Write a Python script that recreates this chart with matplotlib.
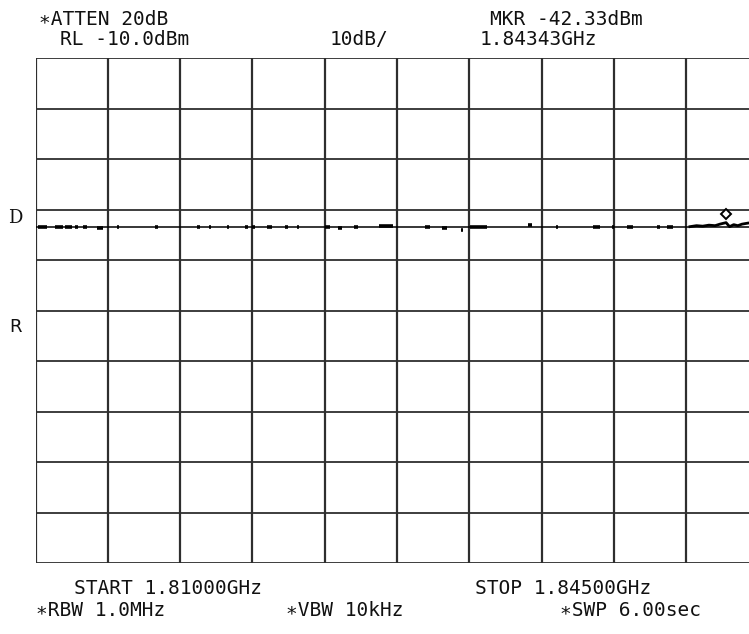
import numpy as np
import matplotlib
matplotlib.use("Agg")
import matplotlib.pyplot as plt
from matplotlib.transforms import ScaledTranslation

# ---- instrument settings / data ----
start_ghz = 1.81000
stop_ghz = 1.84500
ref_level = -10.0
db_per_div = 10.0
n_div = 10

display_line = -43.5          # noise floor / display line level (dBm)
marker_freq = 1.84343
marker_level = -42.33

# short trace blips along the noise floor (GHz start, GHz stop, dBm)
seg_start = [1.81012, 1.81094, 1.81143, 1.81191, 1.81230, 1.81298, 1.81394,
             1.81579, 1.81782, 1.81841, 1.81928, 1.82014, 1.82048, 1.82121,
             1.82208, 1.82267, 1.82402, 1.82464, 1.82542, 1.82663, 1.82886,
             1.82968, 1.83061, 1.83104, 1.83384, 1.83520, 1.83698, 1.83791,
             1.83863, 1.84008, 1.84057]
seg_stop = [1.81056, 1.81133, 1.81177, 1.81206, 1.81249, 1.81327, 1.81404,
            1.81593, 1.81796, 1.81850, 1.81937, 1.82029, 1.82063, 1.82145,
            1.82223, 1.82276, 1.82426, 1.82484, 1.82561, 1.82731, 1.82910,
            1.82992, 1.83070, 1.83186, 1.83404, 1.83529, 1.83732, 1.83800,
            1.83892, 1.84023, 1.84086]
seg_level = [-43.5, -43.5, -43.5, -43.5, -43.5, -43.7, -43.5,
             -43.5, -43.5, -43.5, -43.5, -43.5, -43.5, -43.5,
             -43.5, -43.5, -43.5, -43.6, -43.5, -43.2, -43.5,
             -43.6, -44.0, -43.4, -43.1, -43.5, -43.5, -43.5,
             -43.5, -43.5, -43.5]

# rising tail near the marker
tail_freq = [1.84168, 1.84200, 1.84230, 1.84260, 1.84290, 1.84313, 1.84343,
             1.84360, 1.84380, 1.84400, 1.84420, 1.84448]
tail_level = [-43.4, -43.2, -43.3, -43.1, -43.2, -42.9, -42.6,
              -43.4, -43.0, -43.2, -42.9, -42.7]

hdr_left1 = "∗ATTEN 20dB"
hdr_right1 = "MKR -42.33dBm"
hdr_left2 = "RL -10.0dBm"
hdr_mid2 = "10dB/"
hdr_right2 = "1.84343GHz"
ftr_start = "START 1.81000GHz"
ftr_stop = "STOP 1.84500GHz"
ftr_rbw = "∗RBW 1.0MHz"
ftr_vbw = "∗VBW 10kHz"
ftr_swp = "∗SWP 6.00sec"

# ---- figure ----
W, H = 749, 634
fig = plt.figure(figsize=(W / 100, H / 100), dpi=100)
fig.patch.set_facecolor("white")
ax = fig.add_axes([35.5 / W, 71 / H, 723 / W, 505 / H])
ax.set_xlim(start_ghz, stop_ghz)
bottom_level = ref_level - n_div * db_per_div
ax.set_ylim(bottom_level, ref_level)
ax.set_xticks([])
ax.set_yticks([])
for s in ax.spines.values():
    s.set_visible(False)

gcol = "#2e2e2e"
step_f = (stop_ghz - start_ghz) / n_div
for i in range(n_div + 1):
    ax.axvline(start_ghz + i * step_f, color=gcol, lw=1.6, zorder=1)
    ax.axhline(ref_level - i * db_per_div, color=gcol, lw=1.3, zorder=1)

# continuous display line / noise floor
ax.axhline(display_line, color="black", lw=1.1, zorder=2)

# trace blips
fx, fy = [], []
for a, b, l in zip(seg_start, seg_stop, seg_level):
    fx += [a, b, np.nan]
    fy += [l, l, np.nan]
ax.plot(fx, fy, color="black", lw=2.6, solid_capstyle="butt", zorder=3)
ax.plot(tail_freq, tail_level, color="black", lw=2.0, zorder=3)

# marker diamond (drawn just above the trace point)
off = ScaledTranslation(0, 7 / 100, fig.dpi_scale_trans)
ax.plot([marker_freq], [marker_level], marker="D", ms=5, mfc="white",
        mec="black", mew=1.4, transform=ax.transData + off, zorder=4)

# ---- texts ----
mono = dict(family="DejaVu Sans Mono", fontsize=14, color="#111111",
            va="center", ha="center")

def put(txt, cx, cy, **kw):
    d = dict(mono)
    d.update(kw)
    fig.text(cx / W, 1 - cy / H, txt, **d)

put(hdr_left1, 103.5, 19.5)
put(hdr_right1, 566, 19.5)
put(hdr_left2, 125, 39.5)
put(hdr_mid2, 359, 39.5)
put(hdr_right2, 538.5, 39.5)
put(ftr_start, 168, 589)
put(ftr_stop, 563.5, 589)
put(ftr_rbw, 101, 611)
put(ftr_vbw, 345, 611)
put(ftr_swp, 631, 611)

fig.text(15.5 / W, 1 - 218 / H, "D", family="DejaVu Serif", fontsize=13,
         ha="center", va="center", color="#111111")
fig.text(15.5 / W, 1 - 327 / H, "R", family="DejaVu Sans", fontsize=13,
         ha="center", va="center", color="#111111")

fig.savefig("out.png", dpi=100, facecolor="white")
